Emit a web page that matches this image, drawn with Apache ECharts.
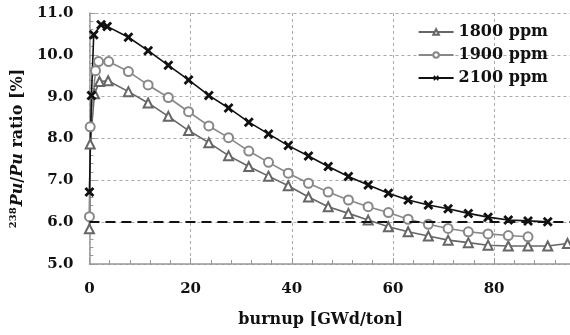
<!DOCTYPE html>
<html>
<head>
<meta charset="utf-8">
<script src="https://cdn.jsdelivr.net/npm/echarts@6/dist/echarts.min.js"></script>
<style>
  html, body { margin: 0; padding: 0; background: #fff; }
  #chart { width: 570px; height: 335px; }
</style>
</head>
<body>
<div id="chart"></div>
<script>
// burnup [GWd/ton] and 238Pu/Pu ratio [%]
const burnup1800 = [0, 0.15, 1.0, 2.0, 3.7, 7.7, 11.6, 15.6, 19.6, 23.6, 27.5, 31.5, 35.4, 39.3, 43.3, 47.2, 51.2, 55.1, 59.1, 63.0, 67.0, 70.9, 74.9, 78.8, 82.8, 86.7, 90.6, 94.5]
const ratio1800 = [5.84, 7.87, 9.07, 9.36, 9.38, 9.12, 8.85, 8.53, 8.19, 7.90, 7.59, 7.33, 7.10, 6.87, 6.60, 6.37, 6.21, 6.05, 5.89, 5.77, 5.67, 5.57, 5.51, 5.45, 5.43, 5.43, 5.43, 5.49]

const burnup1900 = [0, 0.15, 1.2, 1.8, 3.8, 7.7, 11.6, 15.6, 19.6, 23.6, 27.5, 31.5, 35.4, 39.3, 43.3, 47.2, 51.2, 55.1, 59.1, 63.0, 67.0, 70.9, 74.9, 78.8, 82.8, 86.7]
const ratio1900 = [6.13, 8.28, 9.62, 9.84, 9.84, 9.60, 9.28, 8.98, 8.64, 8.30, 8.02, 7.70, 7.43, 7.17, 6.93, 6.72, 6.53, 6.37, 6.23, 6.07, 5.95, 5.85, 5.77, 5.72, 5.68, 5.65]

const burnup2100 = [0, 0.4, 0.85, 2.3, 3.5, 7.7, 11.6, 15.6, 19.6, 23.6, 27.5, 31.5, 35.4, 39.3, 43.3, 47.2, 51.2, 55.1, 59.1, 63.0, 67.0, 70.9, 74.9, 78.8, 82.8, 86.7, 90.6]
const ratio2100 = [6.72, 9.03, 10.48, 10.72, 10.68, 10.42, 10.10, 9.75, 9.40, 9.03, 8.73, 8.39, 8.11, 7.83, 7.58, 7.33, 7.09, 6.89, 6.69, 6.53, 6.41, 6.32, 6.21, 6.12, 6.05, 6.03, 6.01]

const seriesNames = ['1800 ppm', '1900 ppm', '2100 ppm']
const limitRatio = 6.0

const FONT = 'DejaVu Serif'
const CROSS = 'path://M2,0L5,3L8,0L10,2L7,5L10,8L8,10L5,7L2,10L0,8L3,5L0,2Z'

const pairs = (xs, ys) => xs.map((x, i) => [x, ys[i]])

const chart = echarts.init(document.getElementById('chart'))

const makeSeries = (name, data, color, symbol, size) => ({
  name: name,
  type: 'line',
  data: data,
  symbol: symbol,
  symbolSize: size,
  showAllSymbol: true,
  lineStyle: { color: color, width: 1.6 },
  itemStyle: { color: color, borderColor: color, borderWidth: 1.4 },
  emphasis: { disabled: true },
  z: 3
})

const s2100 = makeSeries(seriesNames[2], pairs(burnup2100, ratio2100), '#111', CROSS, 10)
s2100.itemStyle = { color: '#111', borderWidth: 0 }
s2100.markLine = {
  silent: true,
  symbol: ['none', 'none'],
  label: { show: false },
  lineStyle: { color: '#111', width: 2, type: [10, 6] },
  data: [{ yAxis: limitRatio }]
}

const option = {
  animation: false,
  backgroundColor: '#fff',
  grid: { left: 87, right: 0, top: 13, bottom: 71 },
  legend: {
    orient: 'vertical',
    right: 22,
    top: 23,
    padding: 0,
    itemGap: 5,
    itemWidth: 35,
    itemHeight: 7,
    data: seriesNames,
    textStyle: { fontFamily: FONT, fontWeight: 'bold', fontSize: 16, color: '#111', lineHeight: 18 }
  },
  xAxis: {
    type: 'value',
    min: 0,
    max: 95,
    interval: 20,
    name: 'burnup [GWd/ton]',
    nameLocation: 'middle',
    nameGap: 48,
    nameTextStyle: { fontFamily: FONT, fontWeight: 'bold', fontSize: 16, color: '#111', padding: [0, 18, 0, 0] },
    axisLine: { lineStyle: { color: '#999', width: 1.5 } },
    axisTick: { inside: true, length: 6, lineStyle: { color: '#999' } },
    minorTick: { show: true, splitNumber: 5, length: 4, lineStyle: { color: '#999' } },
    axisLabel: { showMaxLabel: false, margin: 18, fontFamily: FONT, fontWeight: 'bold', fontSize: 15, color: '#111' },
    splitLine: { lineStyle: { color: '#aaa', type: [3, 3], width: 1 } }
  },
  yAxis: {
    type: 'value',
    min: 5,
    max: 11,
    interval: 1,
    name: '{sup|238}{it|Pu}{b|/}{it|Pu}{b| ratio [%]}',
    nameLocation: 'middle',
    nameGap: 59,
    nameRotate: 90,
    nameTextStyle: {
      padding: [0, 20, 0, 0],
      rich: {
        sup: { fontFamily: FONT, fontWeight: 'bold', fontSize: 10, color: '#111', verticalAlign: 'top', lineHeight: 20, padding: [0, 1, 6, 0] },
        it: { fontFamily: FONT, fontWeight: 'bold', fontStyle: 'italic', fontSize: 16, color: '#111', lineHeight: 20 },
        b: { fontFamily: FONT, fontWeight: 'bold', fontSize: 16, color: '#111', lineHeight: 20 }
      }
    },
    axisLine: { show: true, lineStyle: { color: '#999', width: 1.5 } },
    axisTick: { show: true, inside: true, length: 6, lineStyle: { color: '#999' } },
    minorTick: { show: true, splitNumber: 5, length: 4, lineStyle: { color: '#999' } },
    axisLabel: {
      margin: 16,
      fontFamily: FONT, fontWeight: 'bold', fontSize: 15, color: '#111',
      formatter: (v) => v.toFixed(1)
    },
    splitLine: { lineStyle: { color: '#aaa', type: [3, 3], width: 1 } }
  },
  series: [
    makeSeries(seriesNames[0], pairs(burnup1800, ratio1800), '#666', 'emptyTriangle', 9),
    makeSeries(seriesNames[1], pairs(burnup1900, ratio1900), '#888', 'emptyCircle', 9),
    s2100
  ]
}

chart.setOption(option)
</script>
</body>
</html>
